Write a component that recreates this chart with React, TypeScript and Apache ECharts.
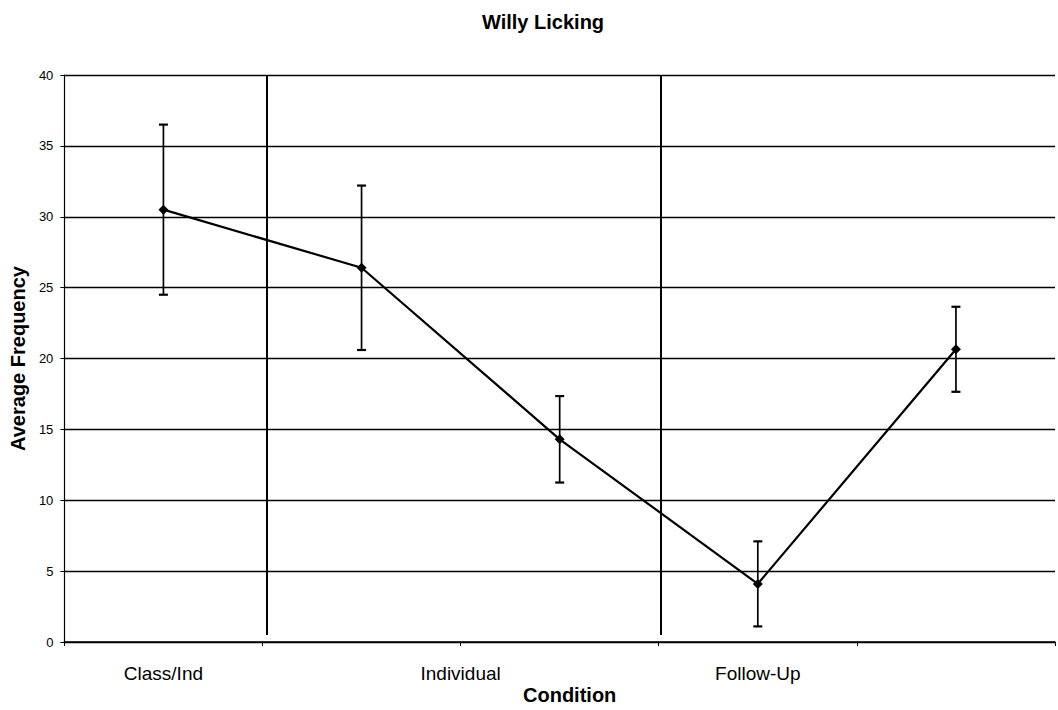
import React, { useEffect, useRef } from "react";
import * as echarts from "echarts";

const conditions = ["Class/Ind", "Individual", "Follow-Up"];
const conditionLabelAt = [0.5, 2, 3.5];
const sessions = [1, 2, 3, 4, 5];
const means = [30.5, 26.4, 14.3, 4.1, 20.65];
const errors = [6.0, 5.8, 3.05, 3.0, 3.0];
const phaseChanges = [1.02, 3.01];
const yTicks = [0, 5, 10, 15, 20, 25, 30, 35, 40];

const FONT = "'Liberation Sans', Arial, sans-serif";

export default function App() {
  const ref = useRef<HTMLDivElement>(null);

  useEffect(() => {
    if (!ref.current) return;
    const chart = echarts.init(ref.current, undefined, { renderer: "svg" });
    const pts = sessions.map((s, i) => [i + 0.5, means[i]]);
    const bars = sessions.map((s, i) => [i + 0.5, means[i] - errors[i], means[i] + errors[i]]);
    const labelFor = (v: number) => {
      const k = conditionLabelAt.findIndex((p) => Math.abs(p - v) < 1e-6);
      if (k < 0) return "";
      return k === 2 ? "{up|" + conditions[k] + "}" : "{n|" + conditions[k] + "}";
    };
    chart.setOption({
      animation: false,
      backgroundColor: "#fff",
      textStyle: { fontFamily: FONT, color: "#000" },
      title: {
        text: "Willy Licking",
        left: 477,
        top: 7,
        textStyle: { fontFamily: FONT, fontSize: 20, fontWeight: "bold", color: "#000" },
      },
      grid: { left: 62, top: 75, width: 1005, height: 572, containLabel: false },
      xAxis: [
        {
          type: "value",
          min: 0,
          max: 5,
          interval: 1,
          position: "bottom",
          axisLine: { show: true, onZero: false, lineStyle: { color: "#000", width: 1.5 } },
          axisTick: { show: true, length: 4, lineStyle: { color: "#000", width: 1 } },
          axisLabel: { show: false },
          splitLine: { show: false },
          name: "Condition",
          nameLocation: "middle",
          nameGap: 43,
          nameTextStyle: { fontFamily: FONT, fontSize: 20, fontWeight: "bold", color: "#000", padding: [0, 0, 0, 20] },
        },
        {
          type: "value",
          min: 0,
          max: 5,
          interval: 0.5,
          position: "bottom",
          axisLine: { show: false, onZero: false },
          axisTick: { show: false },
          splitLine: { show: false },
          axisLabel: {
            show: true,
            margin: 22,
            formatter: (v: number) => labelFor(v),
            rich: {
              n: { fontFamily: FONT, fontSize: 19, color: "#000" },
              up: { fontFamily: FONT, fontSize: 19, color: "#000", padding: [0, 0, 12, 0] },
            },
          },
        },
      ],
      yAxis: {
        type: "value",
        min: yTicks[0],
        max: yTicks[yTicks.length - 1],
        interval: 5,
        axisLine: { show: true, lineStyle: { color: "#000", width: 1.2 } },
        axisTick: { show: true, length: 4, lineStyle: { color: "#000" } },
        axisLabel: { fontFamily: FONT, fontSize: 13, color: "#000", margin: 11 },
        splitLine: { show: true, lineStyle: { color: "#000", width: 1.4 } },
        name: "Average Frequency",
        nameLocation: "middle",
        nameGap: 34,
        nameTextStyle: { fontFamily: FONT, fontSize: 20, fontWeight: "bold", color: "#000" },
      },
      series: [
        {
          type: "custom",
          xAxisIndex: 0,
          z: 3,
          data: bars,
          renderItem: (params: any, api: any) => {
            const x = api.value(0);
            const lo = api.coord([x, api.value(1)]);
            const hi = api.coord([x, api.value(2)]);
            const w = 4.5;
            const style = { stroke: "#000", lineWidth: 1.7 };
            return {
              type: "group",
              children: [
                { type: "line", shape: { x1: lo[0], y1: lo[1], x2: hi[0], y2: hi[1] }, style },
                { type: "line", shape: { x1: lo[0] - w, y1: lo[1], x2: lo[0] + w, y2: lo[1] }, style: { stroke: "#000", lineWidth: 2.2 } },
                { type: "line", shape: { x1: hi[0] - w, y1: hi[1], x2: hi[0] + w, y2: hi[1] }, style: { stroke: "#000", lineWidth: 2.2 } },
              ],
            };
          },
        },
        {
          type: "line",
          xAxisIndex: 0,
          z: 4,
          data: pts,
          symbol: "diamond",
          symbolSize: 10,
          itemStyle: { color: "#000" },
          lineStyle: { color: "#000", width: 2.2 },
          markLine: {
            silent: true,
            symbol: "none",
            label: { show: false },
            lineStyle: { color: "#000", width: 2, type: "solid" },
            data: phaseChanges.map((p) => [
              { coord: [p, 0.5] },
              { coord: [p, 40] },
            ]),
          },
        },
      ],
    });
    return () => chart.dispose();
  }, []);

  return (
    <div
      ref={ref}
      style={{ position: "fixed", left: 0, top: 0, width: 1058, height: 710, background: "#fff" }}
    />
  );
}
